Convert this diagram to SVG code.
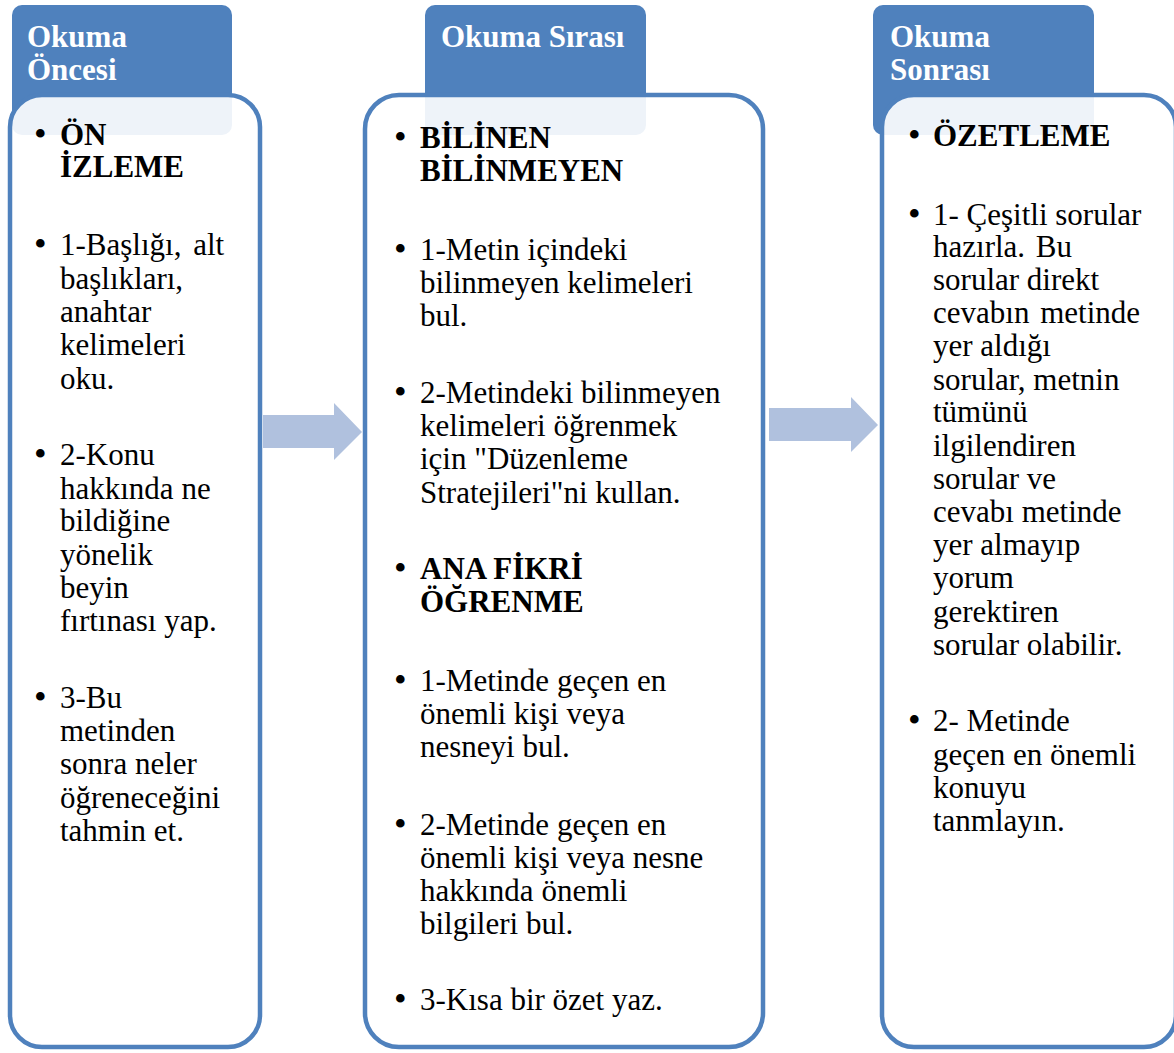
<svg xmlns="http://www.w3.org/2000/svg" width="1174" height="1053" viewBox="0 0 1174 1053">
<style>
.hdr{fill:#4F81BD;}
.body{fill:#FFFFFF;fill-opacity:0.9;stroke:#4F81BD;stroke-width:4.5;}
.arrow{fill:#B0C1DE;}
text{font-family:"Liberation Serif","Times New Roman",serif;font-size:31px;fill:#000000;}
.title{fill:#FFFFFF;font-weight:bold;}
.b{font-weight:bold;}
.bul{font-size:36px;}
</style>
<rect width="1174" height="1053" fill="#FFFFFF"/>
<g id="col-once">
<rect class="hdr" x="12" y="5" width="220" height="130" rx="10"/>
<rect class="body" x="10" y="95" width="250" height="952" rx="32"/>
<text class="title" x="27" y="47">Okuma</text>
<text class="title" x="27" y="80">Öncesi</text>
<text class="bul" x="34" y="146">•</text>
<text class="b" x="60" y="145">ÖN</text>
<text class="b" x="60" y="177">İZLEME</text>
<text class="bul" x="34" y="256">•</text>
<text x="60" y="255" word-spacing="4">1-Başlığı, alt</text>
<text x="60" y="289">başlıkları,</text>
<text x="60" y="322">anahtar</text>
<text x="60" y="355">kelimeleri</text>
<text x="60" y="389">oku.</text>
<text class="bul" x="34" y="466">•</text>
<text x="60" y="465">2-Konu</text>
<text x="60" y="499">hakkında ne</text>
<text x="60" y="531">bildiğine</text>
<text x="60" y="565">yönelik</text>
<text x="60" y="598">beyin</text>
<text x="60" y="631">fırtınası yap.</text>
<text class="bul" x="34" y="709">•</text>
<text x="60" y="708">3-Bu</text>
<text x="60" y="741">metinden</text>
<text x="60" y="774">sonra neler</text>
<text x="60" y="808">öğreneceğini</text>
<text x="60" y="841">tahmin et.</text>
</g>
<g id="col-sirasi">
<rect class="hdr" x="425" y="5" width="221" height="130" rx="10"/>
<rect class="body" x="365" y="95" width="398" height="952" rx="34"/>
<text class="title" x="441" y="47">Okuma Sırası</text>
<text class="bul" x="394" y="149">•</text>
<text class="b" x="420" y="148">BİLİNEN</text>
<text class="b" x="420" y="181">BİLİNMEYEN</text>
<text class="bul" x="394" y="261">•</text>
<text x="420" y="260">1-Metin içindeki</text>
<text x="420" y="293">bilinmeyen kelimeleri</text>
<text x="420" y="326">bul.</text>
<text class="bul" x="394" y="404">•</text>
<text x="420" y="403">2-Metindeki bilinmeyen</text>
<text x="420" y="436">kelimeleri öğrenmek</text>
<text x="420" y="469">için "Düzenleme</text>
<text x="420" y="503">Stratejileri"ni kullan.</text>
<text class="bul" x="394" y="580">•</text>
<text class="b" x="420" y="579">ANA FİKRİ</text>
<text class="b" x="420" y="612">ÖĞRENME</text>
<text class="bul" x="394" y="692">•</text>
<text x="420" y="691">1-Metinde geçen en</text>
<text x="420" y="724">önemli kişi veya</text>
<text x="420" y="757">nesneyi bul.</text>
<text class="bul" x="394" y="836">•</text>
<text x="420" y="835">2-Metinde geçen en</text>
<text x="420" y="868">önemli kişi veya nesne</text>
<text x="420" y="901">hakkında önemli</text>
<text x="420" y="934">bilgileri bul.</text>
<text class="bul" x="394" y="1011">•</text>
<text x="420" y="1010">3-Kısa bir özet yaz.</text>
</g>
<g id="col-sonrasi">
<rect class="hdr" x="873" y="5" width="221" height="130" rx="10"/>
<rect class="body" x="882" y="95" width="294" height="952" rx="32"/>
<text class="title" x="890" y="47">Okuma</text>
<text class="title" x="890" y="80">Sonrası</text>
<text class="bul" x="908" y="147">•</text>
<text class="b" x="933" y="146">ÖZETLEME</text>
<text class="bul" x="908" y="226">•</text>
<text x="933" y="225">1- Çeşitli sorular</text>
<text x="933" y="257" word-spacing="3">hazırla. Bu</text>
<text x="933" y="290">sorular direkt</text>
<text x="933" y="323" word-spacing="3">cevabın metinde</text>
<text x="933" y="356">yer aldığı</text>
<text x="933" y="390">sorular, metnin</text>
<text x="933" y="422">tümünü</text>
<text x="933" y="456">ilgilendiren</text>
<text x="933" y="489">sorular ve</text>
<text x="933" y="522">cevabı metinde</text>
<text x="933" y="555">yer almayıp</text>
<text x="933" y="588">yorum</text>
<text x="933" y="622">gerektiren</text>
<text x="933" y="655">sorular olabilir.</text>
<text class="bul" x="908" y="732">•</text>
<text x="933" y="731">2- Metinde</text>
<text x="933" y="765">geçen en önemli</text>
<text x="933" y="798">konuyu</text>
<text x="933" y="831">tanmlayın.</text>
</g>
<g id="connectors">
<polygon class="arrow" points="263,415 334,415 334,403 362,432 334,460 334,448 263,448"/>
<polygon class="arrow" points="769,408 851,408 851,397 878,425 851,452 851,441 769,441"/>
</g>
</svg>
